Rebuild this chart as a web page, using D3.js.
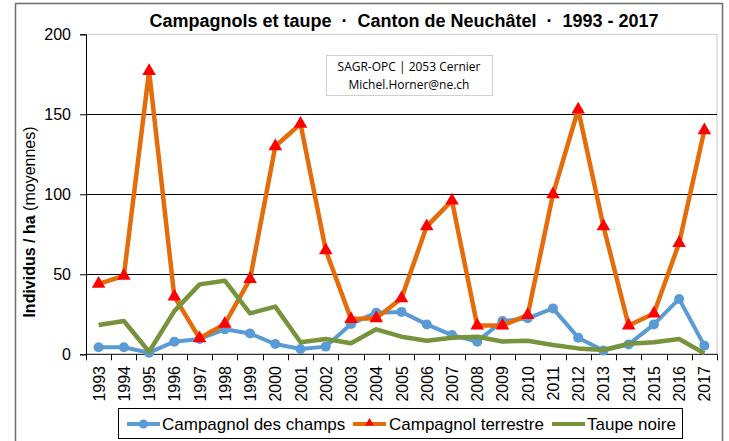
<!DOCTYPE html>
<html>
<head>
<meta charset="utf-8">
<script src="https://cdn.jsdelivr.net/npm/d3@7"></script>
<style>
  body { margin: 0; background: #fff; }
  svg { display: block; font-family: "Liberation Sans", Arial, sans-serif; }
</style>
</head>
<body>
<div id="chart"></div>
<script>
// values
const years = ["1993","1994","1995","1996","1997","1998","1999","2000","2001","2002","2003","2004","2005",
               "2006","2007","2008","2009","2010","2011","2012","2013","2014","2015","2016","2017"];
const champs = [4.4, 4.4, 1, 7.9, 9.6, 15.6, 13, 6.4, 3.3, 4.8, 19, 26, 26.5,
                18.7, 12, 7.9, 20.8, 22.5, 28.7, 10.4, 2.3, 6.2, 18.7, 34.6, 5.4];
const terrestre = [44, 49, 177, 36, 10, 19, 47, 130, 144, 65, 22, 22.5, 35,
                   80, 96, 18, 18, 24.5, 100, 153, 80, 18, 25.5, 69.5, 140];
const taupe = [18.3, 20.8, 1.6, 27, 43.7, 46, 25.6, 29.8, 7.5, 9.6, 6.9, 15.6, 11,
               8.5, 10.4, 11, 8, 8.5, 5.8, 3.7, 2.7, 6.6, 7.5, 9.6, 0.6];
const yTicks = [0, 50, 100, 150, 200];
const seriesNames = ["Campagnol des champs", "Campagnol terrestre", "Taupe noire"];

const width = 729, height = 441;
const plotL = 86, plotR = 717, plotT = 34.3, plotB = 354.3;

const svg = d3.select("#chart").append("svg")
    .attr("width", width)
    .attr("height", height);

// outer frame
svg.append("rect")
    .attr("x", 15.5).attr("y", 3.5)
    .attr("width", 707).attr("height", 460)
    .attr("fill", "#fff").attr("stroke", "#6e6e6e").attr("stroke-width", 1.5);

const x = d3.scaleBand().domain(years).range([plotL, plotR]);
const y = d3.scaleLinear().domain([0, 200]).range([plotB, plotT]);

// plot area frame (light grey top + right)
svg.append("path")
    .attr("d", `M${plotL},${plotT}H${plotR}V${plotB}`)
    .attr("fill", "none").attr("stroke", "#c8c8c8").attr("stroke-width", 1);

// horizontal gridlines
svg.append("g").selectAll("line")
    .data(yTicks.filter(d => d > 0 && d < 200))
    .enter().append("line")
    .attr("x1", plotL).attr("x2", plotR)
    .attr("y1", d => Math.round(y(d)) + 0.5).attr("y2", d => Math.round(y(d)) + 0.5)
    .attr("stroke", "#000").attr("stroke-width", 1);

// y axis
const yAxis = svg.append("g")
    .attr("transform", `translate(${plotL},0)`)
    .call(d3.axisLeft(y).tickValues(yTicks).tickSize(6).tickPadding(9));
yAxis.select(".domain").attr("stroke", "#000");
yAxis.selectAll(".tick line").attr("stroke", "#000");
yAxis.selectAll("text")
    .attr("font-size", 16).attr("fill", "#000")
    .attr("font-family", "Liberation Sans, Arial, sans-serif");

// x axis: ticks between categories
const xg = svg.append("g");
xg.append("line")
    .attr("x1", plotL).attr("x2", plotR)
    .attr("y1", plotB).attr("y2", plotB)
    .attr("stroke", "#000");
const bounds = years.map(d => x(d)).concat([plotR]);
xg.selectAll(".xt").data(bounds).enter().append("line")
    .attr("class", "xt")
    .attr("x1", d => Math.round(d) + 0.5).attr("x2", d => Math.round(d) + 0.5)
    .attr("y1", plotB).attr("y2", plotB + 6)
    .attr("stroke", "#000");
xg.selectAll(".xl").data(years).enter().append("text")
    .attr("class", "xl")
    .attr("transform", d => `translate(${x(d) + x.bandwidth() / 2 + 6},${366}) rotate(-90)`)
    .attr("text-anchor", "end")
    .attr("font-size", 16)
    .text(d => d);

const cx = (d, i) => x(years[i]) + x.bandwidth() / 2;
const line = d3.line().x(cx).y(d => y(d));

// series 1: campagnol des champs
svg.append("path").datum(champs)
    .attr("d", line).attr("fill", "none")
    .attr("stroke", "#5b9bd5").attr("stroke-width", 4).attr("stroke-linejoin", "round");
svg.append("g").selectAll("circle").data(champs).enter().append("circle")
    .attr("cx", cx).attr("cy", d => y(d)).attr("r", 5)
    .attr("fill", "#5b9bd5");

// series 2: campagnol terrestre
svg.append("path").datum(terrestre)
    .attr("d", line).attr("fill", "none")
    .attr("stroke", "#e46c0a").attr("stroke-width", 4.5).attr("stroke-linejoin", "round");
const tri = d3.symbol().type(d3.symbolTriangle).size(80);
svg.append("g").selectAll("path").data(terrestre).enter().append("path")
    .attr("d", tri)
    .attr("transform", (d, i) => `translate(${cx(d, i)},${y(d)})`)
    .attr("fill", "#ff0000");

// series 3: taupe noire
svg.append("path").datum(taupe)
    .attr("d", line).attr("fill", "none")
    .attr("stroke", "#77933c").attr("stroke-width", 4.5).attr("stroke-linejoin", "round");

// title
svg.append("text")
    .attr("x", 404).attr("y", 27)
    .attr("text-anchor", "middle")
    .attr("font-size", 18).attr("font-weight", "bold")
    .attr("xml:space", "preserve")
    .text("Campagnols et taupe  ·  Canton de Neuchâtel  ·  1993 - 2017");

// y axis title
const yt = svg.append("text")
    .attr("transform", "translate(35,222) rotate(-90)")
    .attr("text-anchor", "middle")
    .attr("font-size", 16);
yt.append("tspan").attr("font-weight", "bold").text("Individus / ha ");
yt.append("tspan").text("(moyennes)");

// source box
svg.append("rect")
    .attr("x", 326.5).attr("y", 55.5).attr("width", 166).attr("height", 40)
    .attr("fill", "#fff").attr("stroke", "#d0d0d0");
svg.append("text")
    .attr("x", 409).attr("y", 71)
    .attr("text-anchor", "middle")
    .attr("font-size", 12).attr("font-family", "Open Sans, sans-serif")
    .text("SAGR-OPC | 2053 Cernier");
svg.append("text")
    .attr("x", 409).attr("y", 89)
    .attr("text-anchor", "middle")
    .attr("font-size", 12).attr("font-family", "Open Sans, sans-serif")
    .text("Michel.Horner@ne.ch");

// legend
const lg = svg.append("g");
lg.append("rect")
    .attr("x", 118.5).attr("y", 408.5).attr("width", 564).attr("height", 30)
    .attr("fill", "#fff").attr("stroke", "#000");
const legendItems = [
  { name: seriesNames[0], color: "#5b9bd5", x0: 127, tx: 162 },
  { name: seriesNames[1], color: "#e46c0a", x0: 353, tx: 389 },
  { name: seriesNames[2], color: "#77933c", x0: 552, tx: 587 }
];
const triSmall = d3.symbol().type(d3.symbolTriangle).size(34);
legendItems.forEach((it, i) => {
  lg.append("line")
      .attr("x1", it.x0).attr("x2", it.x0 + 33)
      .attr("y1", 424).attr("y2", 424)
      .attr("stroke", it.color).attr("stroke-width", 4);
  if (i === 0) {
    lg.append("circle").attr("cx", it.x0 + 16.5).attr("cy", 424).attr("r", 4.5).attr("fill", it.color);
  } else if (i === 1) {
    lg.append("path").attr("d", triSmall).attr("transform", `translate(${it.x0 + 16.5},423)`).attr("fill", "#ff0000");
  }
  lg.append("text")
      .attr("x", it.tx).attr("y", 430)
      .attr("font-size", 17)
      .text(it.name);
});
</script>
</body>
</html>
